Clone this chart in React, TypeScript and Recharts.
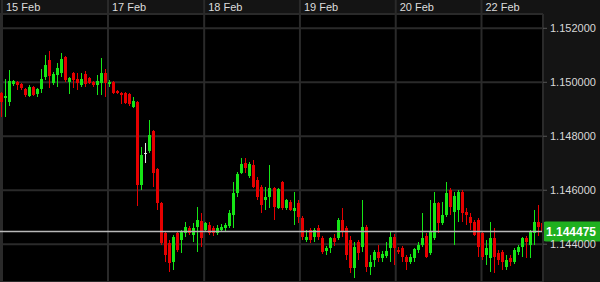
import React from 'react';
import { ComposedChart, Bar, XAxis, YAxis, CartesianGrid, ReferenceLine } from 'recharts';

// hourly EUR/USD-style candles
const opens = [
  1.1496, 1.14942, 1.14927, 1.14994, 1.15001, 1.14994, 1.14975, 1.14949, 1.14983, 1.14957,
  1.14975, 1.1502, 1.15083, 1.14997, 1.15027, 1.15034, 1.15094, 1.15001, 1.15034, 1.15012,
  1.1499, 1.15031, 1.15016, 1.15001, 1.1499, 1.14997, 1.15034, 1.14994, 1.15001, 1.14968,
  1.1496, 1.1496, 1.14957, 1.14909, 1.14927, 1.1462, 1.14738, 1.14746, 1.1482, 1.14679,
  1.14553, 1.14442, 1.14405, 1.14335, 1.14442, 1.14416, 1.14442, 1.1446, 1.14435, 1.14464,
  1.14486, 1.14453, 1.14472, 1.1446, 1.14442, 1.14453, 1.1446, 1.14468, 1.14509, 1.1459,
  1.14664, 1.14701, 1.14653, 1.14694, 1.14638, 1.14612, 1.14564, 1.14575, 1.14609, 1.14534,
  1.14631, 1.14534, 1.14557, 1.14523, 1.14553, 1.14497, 1.14416, 1.14453, 1.14427, 1.1446,
  1.14423, 1.14375, 1.14386, 1.14423, 1.14423, 1.1449, 1.1446, 1.14416, 1.14312, 1.14409,
  1.1439, 1.14464, 1.14316, 1.14342, 1.14372, 1.14349, 1.14357, 1.14386, 1.14427, 1.14379,
  1.14386, 1.14353, 1.14335, 1.14349, 1.14379, 1.14398, 1.14431, 1.14368, 1.14423, 1.14553,
  1.14479, 1.14509, 1.14601, 1.1452, 1.14527, 1.14594, 1.1452, 1.14501, 1.14483, 1.1449,
  1.14442, 1.14361, 1.14349, 1.14423, 1.14368, 1.14372, 1.14316, 1.14349, 1.14335, 1.14372,
  1.1439, 1.14423, 1.14398, 1.14442, 1.14483, 1.14479,
];
const highs = [
  1.14964, 1.15012, 1.15045, 1.15008, 1.15005, 1.14997, 1.14979, 1.1499, 1.14986, 1.14979,
  1.15049, 1.15101, 1.15116, 1.15038, 1.15071, 1.15109, 1.15097, 1.1502, 1.15038, 1.15034,
  1.15034, 1.15042, 1.1502, 1.15005, 1.15027, 1.1509, 1.15049, 1.15008, 1.15005, 1.14971,
  1.14964, 1.14964, 1.1496, 1.14946, 1.14931, 1.1476, 1.14775, 1.1486, 1.14823, 1.14683,
  1.14557, 1.14446, 1.14416, 1.14435, 1.14449, 1.14453, 1.14483, 1.14468, 1.14479, 1.14538,
  1.14516, 1.14483, 1.14483, 1.14468, 1.14472, 1.14475, 1.14479, 1.14527, 1.14631, 1.14668,
  1.1472, 1.1472, 1.14705, 1.14712, 1.14649, 1.1462, 1.14612, 1.14694, 1.14612, 1.14609,
  1.14635, 1.14568, 1.14564, 1.14594, 1.14564, 1.14505, 1.14453, 1.1446, 1.1446, 1.14472,
  1.14431, 1.14394, 1.14427, 1.14438, 1.14497, 1.14534, 1.14468, 1.14431, 1.14409, 1.14416,
  1.14564, 1.14472, 1.14361, 1.14379, 1.14398, 1.14375, 1.14409, 1.14446, 1.14438, 1.1439,
  1.14394, 1.14361, 1.14364, 1.14386, 1.14409, 1.14516, 1.14442, 1.14564, 1.14594, 1.14557,
  1.14557, 1.14631, 1.14609, 1.14594, 1.14601, 1.14601, 1.14534, 1.14516, 1.1449, 1.14497,
  1.14446, 1.14416, 1.14483, 1.1446, 1.14379, 1.14379, 1.14361, 1.14361, 1.14386, 1.14398,
  1.14427, 1.14431, 1.14453, 1.14527, 1.14546, 1.14531,
];
const lows = [
  1.14871, 1.14871, 1.14912, 1.14986, 1.14971, 1.14971, 1.14946, 1.14946, 1.14949, 1.14946,
  1.1496, 1.15008, 1.14979, 1.1499, 1.14983, 1.1502, 1.15001, 1.14957, 1.14979, 1.14971,
  1.14983, 1.14983, 1.14994, 1.14983, 1.14953, 1.14953, 1.14946, 1.14983, 1.14957, 1.14957,
  1.1492, 1.1492, 1.14912, 1.14905, 1.14542, 1.14601, 1.14701, 1.14738, 1.14612, 1.14527,
  1.14398, 1.14335, 1.14298, 1.14305, 1.14372, 1.14368, 1.14427, 1.14435, 1.14409, 1.14372,
  1.1439, 1.14446, 1.14435, 1.14431, 1.14435, 1.14446, 1.14446, 1.1446, 1.1446, 1.14575,
  1.1466, 1.14664, 1.14646, 1.14609, 1.14564, 1.14516, 1.14527, 1.14534, 1.1449, 1.14531,
  1.14527, 1.14527, 1.14523, 1.14472, 1.14479, 1.14416, 1.14409, 1.14405, 1.14409, 1.14416,
  1.14364, 1.14361, 1.14368, 1.14394, 1.14416, 1.14427, 1.14342, 1.14294, 1.14275, 1.14342,
  1.14372, 1.14298, 1.14286, 1.14316, 1.14335, 1.14335, 1.14349, 1.14335, 1.14323, 1.14364,
  1.14335, 1.14305, 1.14327, 1.14335, 1.14368, 1.1439, 1.14349, 1.14361, 1.14416, 1.14442,
  1.14472, 1.14501, 1.14509, 1.14398, 1.14483, 1.14483, 1.14472, 1.14453, 1.14431, 1.14353,
  1.14342, 1.14323, 1.14298, 1.14294, 1.14323, 1.14305, 1.14305, 1.1432, 1.14327, 1.14361,
  1.14353, 1.14349, 1.14349, 1.14398, 1.14431, 1.14427,
];
const closes = [
  1.14927, 1.14949, 1.15005, 1.15005, 1.1499, 1.14979, 1.14953, 1.14983, 1.14953, 1.14975,
  1.15012, 1.15064, 1.15023, 1.15031, 1.15053, 1.15086, 1.15008, 1.15016, 1.15008, 1.14997,
  1.15012, 1.14994, 1.14997, 1.1499, 1.15005, 1.15034, 1.14997, 1.15001, 1.1496, 1.1496,
  1.14953, 1.14923, 1.1492, 1.14931, 1.1462, 1.14731, 1.14738, 1.14805, 1.14664, 1.14553,
  1.14405, 1.14361, 1.14331, 1.14427, 1.14379, 1.14446, 1.14464, 1.14442, 1.1446, 1.1449,
  1.14423, 1.14479, 1.14442, 1.14442, 1.1446, 1.14464, 1.14472, 1.14516, 1.1459, 1.1466,
  1.14697, 1.14683, 1.14697, 1.14612, 1.14575, 1.14546, 1.14575, 1.14609, 1.14538, 1.14605,
  1.14534, 1.14564, 1.14527, 1.14534, 1.14501, 1.14427, 1.14427, 1.14416, 1.14453, 1.14427,
  1.14372, 1.14386, 1.14423, 1.14409, 1.1449, 1.14446, 1.14361, 1.14312, 1.1439, 1.14368,
  1.14464, 1.14316, 1.14335, 1.14372, 1.14349, 1.14364, 1.14375, 1.14427, 1.14386, 1.14372,
  1.14353, 1.14335, 1.14353, 1.14383, 1.14398, 1.14423, 1.14353, 1.14446, 1.14553, 1.14479,
  1.14509, 1.1459, 1.14538, 1.14579, 1.14594, 1.14516, 1.14509, 1.14479, 1.14435, 1.1439,
  1.14353, 1.14386, 1.14423, 1.14353, 1.14342, 1.14335, 1.14342, 1.14335, 1.14379, 1.1439,
  1.14423, 1.14409, 1.14446, 1.14483, 1.14464, 1.144475,
];

const dayTicks = [0.25, 26.7, 50.7, 74.6, 98.5, 119.9];
const dayLabels = ['15 Feb', '17 Feb', '18 Feb', '19 Feb', '20 Feb', '22 Feb'];
const priceTicks = [1.144, 1.146, 1.148, 1.15, 1.152];
const lastPrice = 1.144475;

const data = opens.map((o, i) => ({
  i,
  o,
  h: highs[i],
  l: lows[i],
  c: closes[i],
  range: [lows[i], highs[i]],
}));

const UP = '#16e616';
const DOWN = '#e60000';
const FONT = "'Liberation Sans', Arial, sans-serif";

function Candle(props: any) {
  const { x, y, width, height, payload } = props;
  const { o, h, l, c } = payload;
  const top0 = Math.min(y, y + height);
  const hh = Math.abs(height);
  const k = h === l ? 0 : hh / (h - l);
  const bodyTop = top0 + (h - Math.max(o, c)) * k;
  const bodyBot = top0 + (h - Math.min(o, c)) * k;
  const color = c > o ? UP : c < o ? DOWN : '#e8e8e8';
  const cx = Math.floor(x + width / 2);
  return (
    <g shapeRendering="crispEdges">
      <rect x={cx} y={top0} width={1} height={Math.max(1, hh)} fill={color} />
      <rect x={cx - 1} y={bodyTop} width={3} height={Math.max(1, bodyBot - bodyTop)} fill={color} />
    </g>
  );
}

function DayTick(props: any) {
  const { x, payload } = props;
  const label = dayLabels[dayTicks.indexOf(payload.value)];
  return (
    <g>
      <line x1={x} x2={x} y1={0} y2={14} stroke="#2a2a2a" strokeWidth={2} />
      <text x={x + 4} y={11} fill="#dcdcdc" fontSize={11} fontFamily={FONT}>
        {label}
      </text>
    </g>
  );
}

function PriceTag(props: any) {
  const { viewBox } = props;
  const x = viewBox.x + viewBox.width;
  const y = viewBox.y;
  return (
    <g>
      <rect x={x} y={y - 10} width={60} height={20} rx={3} fill="#1fb01f" />
      <text
        x={x + 28}
        y={y + 4.5}
        textAnchor="middle"
        fill="#ffffff"
        fontSize={12}
        fontWeight="bold"
        fontFamily={FONT}
      >
        {lastPrice.toFixed(6)}
      </text>
    </g>
  );
}

export default function App() {
  return (
    <div style={{ width: 600, height: 282, background: '#141414', fontFamily: FONT }}>
      <style>{'body{margin:0;background:#141414}'}</style>
      <ComposedChart width={600} height={282} data={data} margin={{ top: 0, right: 0, bottom: 0, left: 0 }}>
        <CartesianGrid stroke="#2a2a2a" strokeWidth={2} fill="#000000" />
        <XAxis
          dataKey="i"
          type="number"
          orientation="top"
          height={14}
          domain={[-0.25, 135.25]}
          allowDataOverflow
          ticks={dayTicks}
          interval={0}
          axisLine={false}
          tickLine={false}
          tick={<DayTick />}
        />
        <YAxis
          orientation="right"
          width={57}
          domain={[1.14260, 1.15253]}
          allowDataOverflow
          ticks={priceTicks}
          interval={0}
          tickFormatter={(v: number) => v.toFixed(6)}
          tick={{ fill: '#d8d8d8', fontSize: 11, fontFamily: FONT }}
          tickSize={4}
          tickMargin={3}
          tickLine={{ stroke: '#555555' }}
          axisLine={{ stroke: '#2a2a2a', strokeWidth: 2 }}
        />
        <Bar dataKey="range" barSize={3} shape={<Candle />} isAnimationActive={false} />
        <ReferenceLine y={lastPrice} stroke="#b8b8b8" strokeWidth={1.5} label={<PriceTag />} />
      </ComposedChart>
    </div>
  );
}
